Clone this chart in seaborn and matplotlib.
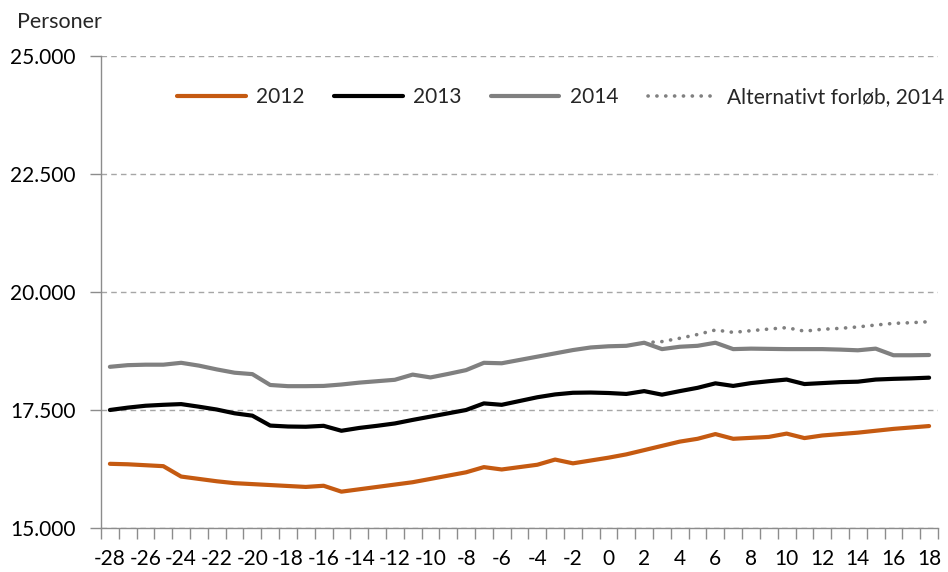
import matplotlib
matplotlib.use("Agg")
import matplotlib.pyplot as plt
import seaborn as sns
import numpy as np
from matplotlib.ticker import FuncFormatter

# ---------------- data ----------------
weeks = [-28, -27, -26, -25, -24, -23, -22, -21, -20, -19, -18, -17, -16, -15,
         -14, -13, -12, -11, -10, -9, -8, -7, -6, -5, -4, -3, -2, -1, 0, 1,
         2, 3, 4, 5, 6, 7, 8, 9, 10, 11, 12, 13, 14, 15, 16, 17, 18]

v2012 = [16360, 16350, 16330, 16310, 16090, 16040, 15990, 15950, 15930, 15910,
         15890, 15870, 15895, 15770, 15820, 15870, 15920, 15970, 16040, 16110,
         16180, 16290, 16240, 16290, 16340, 16450, 16370, 16430, 16490, 16560,
         16650, 16740, 16830, 16890, 16990, 16890, 16910, 16930, 17000, 16905,
         16960, 16990, 17020, 17060, 17100, 17130, 17160]

v2013 = [17500, 17550, 17590, 17610, 17625, 17570, 17510, 17430, 17380, 17170,
         17150, 17145, 17165, 17060, 17120, 17165, 17215, 17290, 17360, 17430,
         17500, 17640, 17610, 17690, 17770, 17830, 17865, 17870, 17860, 17840,
         17900, 17825, 17900, 17970, 18065, 18010, 18070, 18110, 18145, 18050,
         18070, 18090, 18100, 18145, 18160, 18170, 18185]

v2014 = [18415, 18450, 18460, 18460, 18500, 18440, 18360, 18290, 18260, 18030,
         18005, 18005, 18010, 18040, 18080, 18110, 18140, 18250, 18190, 18265,
         18345, 18500, 18490, 18560, 18630, 18700, 18770, 18825, 18850, 18860,
         18925, 18790, 18840, 18860, 18925, 18790, 18800, 18795, 18790, 18790,
         18790, 18780, 18765, 18800, 18660, 18660, 18665]

alt_weeks = [2, 3, 4, 5, 6, 7, 8, 9, 10, 11, 12, 13, 14, 15, 16, 17, 18]
alt2014 = [18925, 18950, 19020, 19100, 19195, 19145, 19180, 19215, 19245, 19170,
           19210, 19230, 19260, 19300, 19335, 19350, 19370]

series_labels = ["2012", "2013", "2014", "Alternativt forløb, 2014"]
y_ticks = [15000, 17500, 20000, 22500, 25000]
x_tick_labels = [-28, -26, -24, -22, -20, -18, -16, -14, -12, -10, -8, -6, -4,
                 -2, 0, 2, 4, 6, 8, 10, 12, 14, 16, 18]
y_title = "Personer"

# ---------------- style ----------------
sns.set_style("white")
plt.rcParams['font.family'] = ['Lato', 'DejaVu Sans']

c2012 = "#C55A11"
c2013 = "#000000"
c2014 = "#808080"
axis_col = "#8C8C8C"

fig = plt.figure(figsize=(9.48, 5.72), dpi=100)
ax = fig.add_axes([101 / 948, 44 / 572, 837 / 948, 472 / 572])

sns.lineplot(x=weeks, y=v2012, ax=ax, color=c2012, linewidth=3, label=series_labels[0])
sns.lineplot(x=weeks, y=v2013, ax=ax, color=c2013, linewidth=3, label=series_labels[1])
sns.lineplot(x=weeks, y=v2014, ax=ax, color=c2014, linewidth=3, label=series_labels[2])
sns.lineplot(x=alt_weeks, y=alt2014, ax=ax, color=c2014, linewidth=2.6,
             linestyle=(0, (0.05, 2.4)), dash_capstyle='round',
             label=series_labels[3])

ax.set_xlim(-28.5, 18.5)
ax.set_ylim(15000, 25000)
ax.set_yticks(y_ticks)
ax.yaxis.set_major_formatter(FuncFormatter(lambda v, p: f"{int(v):,}".replace(",", ".")))
ax.set_xticks(x_tick_labels)
ax.set_xticklabels([str(v) for v in x_tick_labels])
ax.set_xticks(np.arange(-28.5, 18.6, 1), minor=True)

ax.yaxis.grid(True, color="#A6A6A6", linestyle=(0, (4, 3)), linewidth=1)
ax.xaxis.grid(False)
ax.set_axisbelow(True)

for s in ["top", "right"]:
    ax.spines[s].set_visible(False)
for s in ["left", "bottom"]:
    ax.spines[s].set_color(axis_col)
    ax.spines[s].set_linewidth(1)

ax.tick_params(axis="y", which="major", direction="out", length=8, width=1,
               color=axis_col, pad=10.5, labelsize=15, labelcolor="#000000", left=True)
ax.tick_params(axis="x", which="major", length=0, pad=15, labelsize=15,
               labelcolor="#000000", bottom=True)
ax.tick_params(axis="x", which="minor", direction="out", length=8, width=1,
               color=axis_col, bottom=True)

ax.set_xlabel("")
ax.set_ylabel("")

fig.text(17 / 948, 1 - 21.7 / 572, y_title, ha="left", va="center", fontsize=15.5)

ax.legend(ncol=4, frameon=False, fontsize=15, handlelength=3.3,
          handletextpad=0.5, columnspacing=1.4, loc="center",
          bbox_to_anchor=(0.549, 0.913))

fig.savefig("out.png", dpi=100)
